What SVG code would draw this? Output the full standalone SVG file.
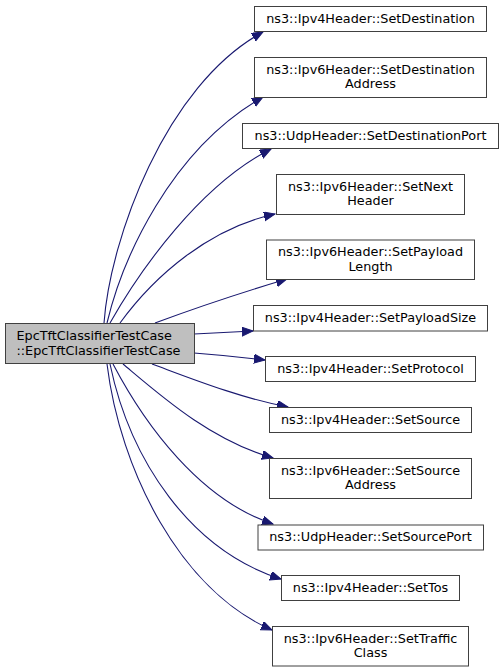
<svg xmlns="http://www.w3.org/2000/svg" width="504" height="672" viewBox="0 0 504 672">
<style>
.n rect{fill:#ffffff;stroke:#404040;stroke-width:1}
#main rect{fill:#bfbfbf}
text{font-family:"DejaVu Sans","Liberation Sans",sans-serif;font-size:12.8px;fill:#000000;text-anchor:middle}
#main text{text-anchor:start}
.e path{fill:none;stroke:#191970;stroke-width:1.1;marker-end:url(#ah)}
</style>
<defs>
<marker id="ah" markerUnits="userSpaceOnUse" markerWidth="12" markerHeight="10" refX="11" refY="4.5" orient="auto" viewBox="0 0 12 10">
<path d="M0,0 L11,4.5 L0,9 z" fill="#191970" stroke="#191970" stroke-width="1"/>
</marker>
</defs>
<rect width="504" height="672" fill="#ffffff"/>
<g id="edges" class="e">
<path d="M104,323 C110,240 165,85 263,32"/>
<path d="M107,323 C122,260 170,150 263,97"/>
<path d="M110,323 C140,270 200,185 271,149"/>
<path d="M120,323 C155,275 210,228 275,214"/>
<path d="M155,323 C190,310 240,293 287,279"/>
<path d="M194,334 C215,333 235,332 253,331"/>
<path d="M194,353 C220,355 240,357 265,360"/>
<path d="M152,364 C190,378 240,398 288,407"/>
<path d="M123,364 C160,395 210,440 273,458"/>
<path d="M113,364 C145,425 200,500 273,524"/>
<path d="M110,364 C130,460 190,550 281,579"/>
<path d="M107,364 C120,470 180,590 272,630"/>
</g>
<g id="main" class="n"><rect x="5.5" y="323.5" width="189" height="40"/><text x="16.5" y="340">EpcTftClassifierTestCase</text><text x="16.5" y="354.5">::EpcTftClassifierTestCase</text></g>
<g id="n1" class="n"><rect x="254.5" y="6.5" width="232" height="25"/><text x="370.5" y="22.5">ns3::Ipv4Header::SetDestination</text></g>
<g id="n2" class="n"><rect x="254.5" y="57.5" width="232" height="40"/><text x="370.5" y="73.5">ns3::Ipv6Header::SetDestination</text><text x="370.5" y="88">Address</text></g>
<g id="n3" class="n"><rect x="242.5" y="123.5" width="256" height="25"/><text x="370.5" y="139.5">ns3::UdpHeader::SetDestinationPort</text></g>
<g id="n4" class="n"><rect x="276.5" y="174.5" width="188" height="40"/><text x="370.5" y="190.5">ns3::Ipv6Header::SetNext</text><text x="370.5" y="205">Header</text></g>
<g id="n5" class="n"><rect x="266.5" y="240" width="208" height="39.5"/><text x="370.5" y="256">ns3::Ipv6Header::SetPayload</text><text x="370.5" y="270.5">Length</text></g>
<g id="n6" class="n"><rect x="253.5" y="305.5" width="234" height="25.5"/><text x="370.5" y="322">ns3::Ipv4Header::SetPayloadSize</text></g>
<g id="n7" class="n"><rect x="265.5" y="356.5" width="210" height="25"/><text x="370.5" y="372.5">ns3::Ipv4Header::SetProtocol</text></g>
<g id="n8" class="n"><rect x="269.5" y="407.5" width="202" height="25"/><text x="370.5" y="423.5">ns3::Ipv4Header::SetSource</text></g>
<g id="n9" class="n"><rect x="269.5" y="458.5" width="202" height="40"/><text x="370.5" y="474.5">ns3::Ipv6Header::SetSource</text><text x="370.5" y="489">Address</text></g>
<g id="n10" class="n"><rect x="258" y="525" width="225.5" height="25"/><text x="370.5" y="541">ns3::UdpHeader::SetSourcePort</text></g>
<g id="n11" class="n"><rect x="281.5" y="575.5" width="178" height="25"/><text x="370.5" y="591.5">ns3::Ipv4Header::SetTos</text></g>
<g id="n12" class="n"><rect x="272.5" y="626.5" width="196" height="39.5"/><text x="370.5" y="642.5">ns3::Ipv6Header::SetTraffic</text><text x="370.5" y="657">Class</text></g>
</svg>
